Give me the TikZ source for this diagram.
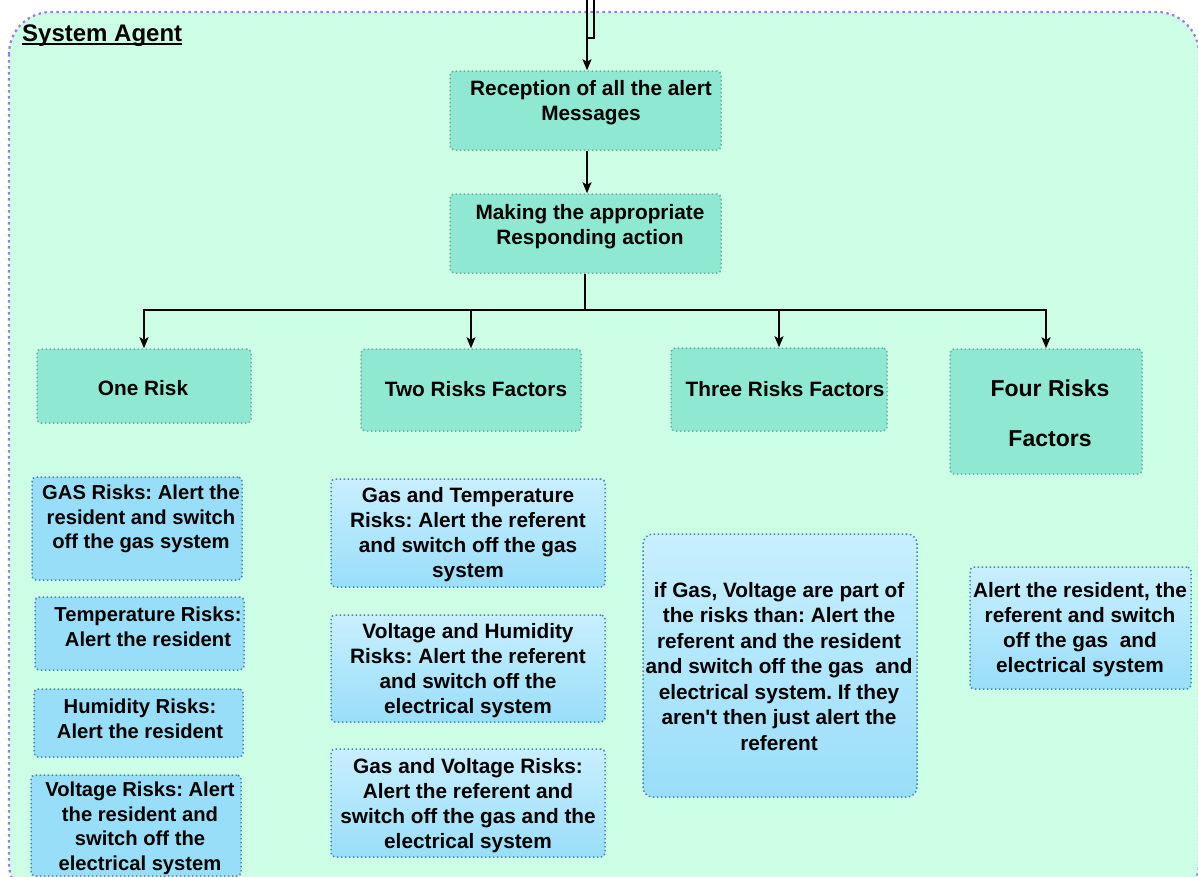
\documentclass[tikz,border=0pt]{standalone}
\usepackage{fontspec}
\setmainfont[Ligatures=TeXOff]{Liberation Sans}
\usetikzlibrary{fit,arrows.meta}
\definecolor{agentfill}{HTML}{CCFFE6}
\definecolor{agentline}{HTML}{A07CD8}
\definecolor{tealfill}{HTML}{8EE8D2}
\definecolor{tealline}{HTML}{74AC9E}
\definecolor{bluefill}{HTML}{99DEF8}
\definecolor{bluetop}{HTML}{C8EFFF}
\definecolor{blueline}{HTML}{3F89B0}
\begin{document}
\frenchspacing
\begin{tikzpicture}[x=1pt,y=-1pt,
  agent/.style={draw=agentline, fill=agentfill, line width=2.2pt,
    dash pattern=on 2.5pt off 3.5pt, rounded corners=42pt},
  stagebox/.style={draw=tealline, fill=tealfill, line width=1.5pt,
    dash pattern=on 1.5pt off 2.5pt, rounded corners=4pt, inner sep=0pt},
  flatbox/.style={draw=blueline, fill=bluefill, line width=1.5pt,
    dash pattern=on 1.5pt off 2.5pt, rounded corners=4pt, inner sep=0pt},
  shadebox/.style={draw=blueline, top color=bluetop, bottom color=bluefill,
    line width=1.5pt, dash pattern=on 1.5pt off 2.5pt, rounded corners=4pt, inner sep=0pt},
  txt/.style={font=\fontsize{20.8}{25}\selectfont\bfseries, align=center, inner sep=0pt},
  smalltxt/.style={txt, font=\fontsize{20.2}{24.5}\selectfont\bfseries},
  conn/.style={draw=black, line width=1.8pt, -{Stealth[length=11pt,width=9pt,inset=2.5pt]}},
  trunk/.style={draw=black, line width=2.6pt}
]
\useasboundingbox (0,0) rectangle (1198,876);

% container of the system agent
\draw[agent] (9,12) rectangle (1199,905);
\node[font=\fontsize{24}{28}\selectfont\bfseries, anchor=base west, inner sep=0pt]
  (title) at (22,41) {System Agent};
\draw[line width=2pt] (title.base west) ++(0,3) -- ([yshift=-3pt]title.base east);

% processing stages
\node[stagebox, fit={(450,71) (721,150)}] (recv) {};
\node[stagebox, fit={(450,194) (721,273)}] (resp) {};
\node[txt] (recvt) at (591,103) {Reception of all the alert\\Messages};
\node[txt] (respt) at (590,227) {Making the appropriate\\Responding action};

% risk categories
\node[stagebox, fit={(37,349) (251,423)}] (one) {};
\node[stagebox, fit={(361,349) (581,431)}] (two) {};
\node[stagebox, fit={(671,348) (887,431)}] (three) {};
\node[stagebox, fit={(950,349) (1142,474)}] (four) {};
\node[txt] (onet) at (143,388) {One Risk};
\node[txt] (twot) at (476,389) {Two Risks Factors};
\node[txt] (threet) at (785,389) {Three Risks Factors};
\node[txt, font=\fontsize{23}{50}\selectfont\bfseries] (fourt) at (1050,413) {Four Risks\\Factors};

% one risk: actions
\node[flatbox, fit={(32,477) (242,580)}] (gas) {};
\node[flatbox, fit={(35,597) (244,670)}] (temp) {};
\node[flatbox, fit={(34,689) (243,757)}] (hum) {};
\node[flatbox, fit={(31,775) (241,876)}] (volt) {};
\node[smalltxt] (gast) at (141,519) {GAS Risks: Alert the\\resident and switch\\off the gas system};
\node[smalltxt] (tempt) at (148,627) {Temperature Risks:\\Alert the resident};
\node[smalltxt] (humt) at (140,719) {Humidity Risks:\\Alert the resident};
\node[smalltxt] (voltt) at (140,828.5) {Voltage Risks: Alert\\the resident and\\switch off the\\electrical system};

% two risks: actions
\node[shadebox, fit={(331,479) (605,587)}] (gt) {};
\node[shadebox, fit={(331,615) (605,722)}] (vh) {};
\node[shadebox, fit={(331,749) (605,857)}] (gv) {};
\node[txt] (gtt) at (468,535) {Gas and Temperature\\Risks: Alert the referent\\and switch off the gas\\system};
\node[txt] (vht) at (468,670.5) {Voltage and Humidity\\Risks: Alert the referent\\and switch off the\\electrical system};
\node[txt] (gvt) at (468,805.5) {Gas and Voltage Risks:\\Alert the referent and\\switch off the gas and the\\electrical system};

% three risks: action
\node[shadebox, rounded corners=10pt, fit={(643,534) (917,797)}] (thr) {};
\node[txt, font=\fontsize{20.8}{25.5}\selectfont\bfseries] (thrt) at (779,666.5)
  {if Gas, Voltage are part of\\the risks than: Alert the\\referent and the resident\\and switch off the gas\ \ and\\electrical system. If they\\aren't then just alert the\\referent};

% four risks: action
\node[shadebox, fit={(970,567) (1191,689)}] (fr) {};
\node[txt] (frt) at (1080,630) {Alert the resident, the\\referent and switch\\off the gas\ \ and\\electrical system};

% incoming messages
\coordinate (inA) at (587,0);
\coordinate (inB) at (594,0);
\coordinate (join) at (587,38);
\draw[line width=1.4pt] (inB) |- (join);
\draw[conn] (inA) -- (recv.north -| inA);
\draw[conn] (recv.south -| inA) -- (resp.north -| inA);

% dispatch to the risk categories
\coordinate (split) at (585,310);
\draw[trunk] (resp.south -| split) -- (split);
\draw[conn] (split) -| (one.north);
\draw[conn] (split) -| (two.north);
\draw[conn] (split) -| (three.north);
\draw[conn] (split) -| (four.north);
\end{tikzpicture}
\end{document}
